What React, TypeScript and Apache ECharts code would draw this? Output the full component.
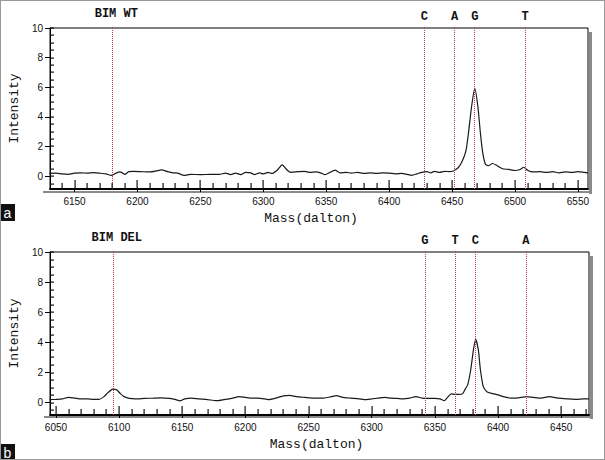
import React, { useEffect, useRef } from "react";
import * as echarts from "echarts";

// ---------- data ----------
const wtMass = [
  6130, 6135, 6140, 6145, 6150, 6155, 6160, 6165, 6170, 6175, 6179, 6183, 6186, 6188, 6190, 6193, 6197,
  6203, 6210, 6215, 6219, 6224, 6228, 6232, 6237, 6242, 6250, 6258, 6265, 6270, 6274, 6278, 6282, 6286,
  6290, 6293, 6297, 6300, 6304, 6307, 6311, 6315, 6319, 6322, 6328, 6333, 6337, 6342, 6346, 6349, 6353,
  6357, 6361, 6366, 6370, 6375, 6380, 6385, 6390, 6395, 6400, 6405, 6410, 6414, 6418, 6422, 6426, 6430,
  6433, 6436, 6440, 6444, 6448, 6451, 6455, 6458, 6461, 6463, 6465.5, 6468, 6470.5, 6472.5, 6474.3,
  6476.5, 6479, 6482, 6485, 6490, 6495, 6500, 6504, 6507, 6510, 6514, 6520, 6525, 6530, 6535, 6540,
  6545, 6550, 6555, 6558,
];
const wtIntensity = [
  0.18, 0.2, 0.15, 0.12, 0.2, 0.22, 0.2, 0.24, 0.2, 0.15, 0.05, 0.2, 0.28, 0.22, 0.12, 0.3, 0.32,
  0.3, 0.28, 0.35, 0.42, 0.3, 0.22, 0.2, 0.05, 0.12, 0.1, 0.12, 0.12, 0.2, 0.1, 0.2, 0.1, 0.25,
  0.22, 0.1, 0.22, 0.15, 0.25, 0.18, 0.4, 0.76, 0.4, 0.25, 0.3, 0.32, 0.25, 0.28, 0.2, 0.1, 0.25,
  0.4, 0.22, 0.25, 0.2, 0.25, 0.18, 0.22, 0.18, 0.22, 0.2, 0.15, 0.18, 0.12, 0.05, 0.15, 0.25, 0.3,
  0.22, 0.32, 0.25, 0.32, 0.3, 0.35, 0.58, 1.0, 1.7, 2.9, 4.7, 5.93, 4.7, 2.9, 1.6,
  0.8, 0.7, 0.85, 0.75, 0.5, 0.45, 0.38, 0.45, 0.6, 0.4, 0.28, 0.3, 0.25, 0.3, 0.22, 0.28,
  0.25, 0.3, 0.25, 0.22,
];
const delMass = [
  6045, 6050, 6055, 6060, 6065, 6070, 6075, 6080, 6084, 6088, 6091, 6095, 6098, 6101, 6104, 6108, 6113,
  6120, 6127, 6133, 6140, 6145, 6148, 6152, 6157, 6163, 6170, 6177, 6183, 6190, 6195, 6200, 6205, 6210,
  6215, 6218, 6224, 6230, 6235, 6240, 6247, 6255, 6262, 6268, 6272, 6277, 6283, 6290, 6294, 6300, 6305,
  6310, 6315, 6320, 6325, 6330, 6335, 6340, 6345, 6350, 6354, 6357.6, 6360, 6363, 6366, 6369, 6372,
  6374, 6376, 6378.4, 6380.5, 6382.3, 6384.4, 6386, 6388.3, 6391.4, 6396, 6400.5, 6405, 6410, 6416,
  6422.5, 6428, 6434, 6440.6, 6446, 6450, 6455, 6462, 6468, 6472,
];
const delIntensity = [
  0.2, 0.22, 0.25, 0.35, 0.3, 0.25, 0.25, 0.22, 0.22, 0.4, 0.65, 0.9, 0.85, 0.6, 0.4, 0.28, 0.25,
  0.28, 0.3, 0.32, 0.28, 0.2, 0.12, 0.25, 0.3, 0.25, 0.2, 0.13, 0.2, 0.3, 0.4, 0.35, 0.3, 0.3,
  0.25, 0.2, 0.3, 0.45, 0.48, 0.4, 0.35, 0.3, 0.3, 0.4, 0.47, 0.35, 0.3, 0.25, 0.2, 0.25, 0.3,
  0.35, 0.3, 0.28, 0.25, 0.3, 0.4, 0.3, 0.28, 0.28, 0.25, 0.13, 0.35, 0.58, 0.55, 0.55, 0.6,
  0.9, 1.2, 2.2, 3.5, 4.2, 3.5, 2.2, 1.07, 0.7, 0.6, 0.5, 0.38, 0.3, 0.32,
  0.4, 0.35, 0.3, 0.4, 0.32, 0.28, 0.25, 0.22, 0.25, 0.25,
];

const wtMarkerMass = [6180, 6428, 6452, 6468, 6508];
const wtMarkerLabels = ["BIM WT", "C", "A", "G", "T"];
const delMarkerMass = [6095, 6342, 6366, 6382, 6422];
const delMarkerLabels = ["BIM DEL", "G", "T", "C", "A"];

const wtXTicks = [6150, 6200, 6250, 6300, 6350, 6400, 6450, 6500, 6550];
const delXTicks = [6050, 6100, 6150, 6200, 6250, 6300, 6350, 6400, 6450];
const yTicks = [0, 2, 4, 6, 8, 10];
const panelLetters = ["a", "b"];

const xAxisTitle = "Mass(dalton)";
const yAxisTitle = "Intensity";

// ---------- layout (each panel is its own 605x230 chart) ----------
const panels = [
  { left: 40, top: 28, width: 548, height: 162, xMin: 6130.5, xMax: 6558, yMin: -0.87, namePad: 16, letterY: 204 },
  { left: 41, top: 22, width: 548, height: 163, xMin: 6045.3, xMax: 6472, yMin: -0.82, namePad: 6, letterY: 214 },
];

const MONO = "'Liberation Mono', 'DejaVu Sans Mono', monospace";
const SANS = "'Liberation Sans', Arial, sans-serif";
const MARK_COLOR = "#b8343a";

function stepValues(min: number, max: number, step: number) {
  const out: number[] = [];
  for (let v = Math.ceil(min / step) * step; v <= max + 1e-9; v += step) out.push(+v.toFixed(3));
  return out;
}

const datasets = [
  { mass: wtMass, inten: wtIntensity, mk: wtMarkerMass, ml: wtMarkerLabels, ticks: wtXTicks },
  { mass: delMass, inten: delIntensity, mk: delMarkerMass, ml: delMarkerLabels, ticks: delXTicks },
];

// custom series drawing inner tick marks (as thin filled rects) through the axis scales
function tickSeries(points: number[][], len: number, vertical: boolean) {
  return {
    type: "custom",
    xAxisIndex: 0,
    yAxisIndex: 0,
    silent: true,
    clip: false,
    z: 6,
    data: points,
    renderItem: (_params: any, api: any) => {
      const pt = api.coord([api.value(0), api.value(1)]);
      const x = Math.round(pt[0]);
      const y = Math.round(pt[1]);
      return {
        type: "rect",
        shape: vertical
          ? { x: x - 0.5, y: y - len, width: 1.2, height: len }
          : { x: x, y: y - 0.5, width: len, height: 1.2 },
        style: { fill: "#111" },
      };
    },
  };
}

function buildOption(gi: number) {
  const p = panels[gi];
  const d = datasets[gi];
  const xBase = { type: "value", min: p.xMin, max: p.xMax, position: "bottom", splitLine: { show: false } };
  const yBase = { type: "value", min: p.yMin, max: 10, position: "left", splitLine: { show: false } };
  const xMinor = stepValues(p.xMin, p.xMax, 10).filter((v) => !d.ticks.includes(v));
  const yMinor = stepValues(p.yMin, 10, 0.5).filter((v) => !yTicks.includes(v));
  return {
    animation: false,
    backgroundColor: "#fff",
    grid: [{ left: p.left, top: p.top, width: p.width, height: p.height, show: true, borderColor: "#000", borderWidth: 1 }],
    xAxis: [
      {
        ...xBase,
        axisLine: { show: true, onZero: false, lineStyle: { color: "#000", width: 2 } },
        axisTick: { show: true, inside: false, length: 3, customValues: d.ticks, lineStyle: { color: "#000", width: 1 } },
        axisLabel: {
          show: true, customValues: d.ticks, margin: 7, fontSize: 10, color: "#111", fontFamily: SANS,
          formatter: (v: number) => String(Math.round(v)),
        },
        name: xAxisTitle, nameLocation: "middle", nameGap: 23,
        nameTextStyle: { fontFamily: MONO, fontSize: 13, color: "#111", padding: [0, p.namePad, 0, 0] },
      },
    ],
    yAxis: [
      {
        ...yBase,
        axisLine: { show: true, onZero: false, lineStyle: { color: "#000", width: 1 } },
        axisTick: { show: true, inside: false, length: 5, customValues: yTicks, lineStyle: { color: "#000", width: 1 } },
        axisLabel: {
          show: true, customValues: yTicks, margin: 7, fontSize: 10, color: "#111", fontFamily: SANS,
          formatter: (v: number) => String(Math.round(v)),
        },
        name: yAxisTitle, nameLocation: "middle", nameGap: 18, nameRotate: 90,
        nameTextStyle: { fontFamily: MONO, fontSize: 13, color: "#111" },
      },
    ],
    series: [
      {
        type: "line",
        xAxisIndex: 0,
        yAxisIndex: 0,
        data: d.mass.map((m, i) => [m, d.inten[i]]),
        showSymbol: false,
        smooth: 0.2,
        lineStyle: { color: "#1a1a1a", width: 1.2 },
        z: 3,
        markLine: {
          silent: true,
          symbol: "none",
          lineStyle: { color: MARK_COLOR, type: "dotted", width: 1 },
          label: {
            show: true, position: "end", formatter: "{b}", distance: 5,
            color: "#111", fontFamily: MONO, fontWeight: "bold", fontSize: 12,
          },
          data: d.mk.map((m, i) => ({
            xAxis: m,
            name: d.ml[i],
            label: i === 0 ? { offset: [4, -3] } : {},
          })),
        },
      },
      tickSeries(xMinor.map((v) => [v, p.yMin]), 6, true),
      tickSeries(d.ticks.map((v) => [v, p.yMin]), 9, true),
      tickSeries(yMinor.map((v) => [p.xMin, v]), 4, false),
      tickSeries(yTicks.map((v) => [p.xMin, v]), 4, false),
    ],
    graphic: [
      { type: "rect", shape: { x: p.left + p.width + 1, y: p.top + 4, width: 3, height: p.height }, style: { fill: "#8a8a8a" } },
      { type: "rect", shape: { x: p.left + 3, y: p.top + p.height + 1, width: p.width + 1, height: 2 }, style: { fill: "#8a8a8a" } },
      { type: "rect", shape: { x: 0, y: p.letterY, width: 15, height: 17 }, style: { fill: "#111" } },
      {
        type: "text", x: 7.5, y: p.letterY + 8.5,
        style: { text: panelLetters[gi], fill: "#fff", font: `14px ${SANS}`, align: "center", verticalAlign: "middle" },
      },
    ],
  };
}

function Panel({ index }: { index: number }) {
  const ref = useRef<HTMLDivElement>(null);
  useEffect(() => {
    if (!ref.current) return;
    const chart = echarts.init(ref.current, undefined, { renderer: "svg" });
    chart.setOption(buildOption(index) as any);
    return () => chart.dispose();
  }, [index]);
  return <div ref={ref} style={{ position: "absolute", left: 0, top: index * 230, width: 605, height: 230 }} />;
}

export default function App() {
  useEffect(() => {
    document.body.style.margin = "0";
  }, []);
  return (
    <div style={{ position: "relative", width: 605, height: 460, background: "#fff" }}>
      <Panel index={0} />
      <Panel index={1} />
      <div
        style={{
          position: "absolute", left: 0, top: 0, width: 605, height: 460,
          boxSizing: "border-box", border: "1px solid #9a9a9a", pointerEvents: "none",
        }}
      />
    </div>
  );
}
